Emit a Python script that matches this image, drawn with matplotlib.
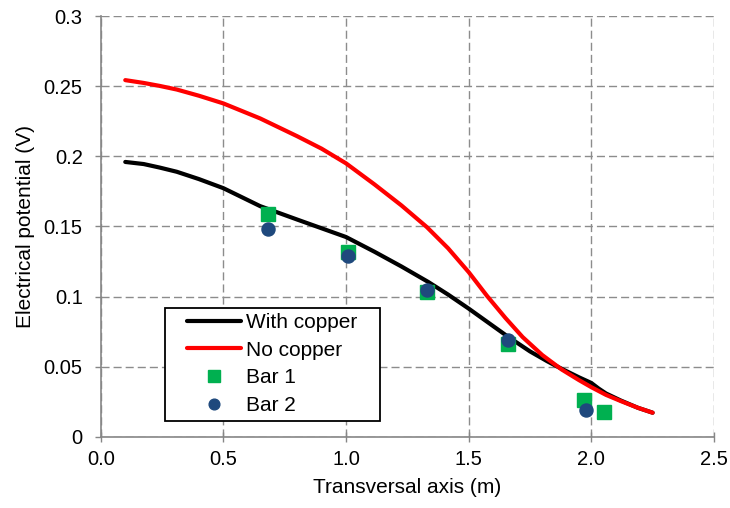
import matplotlib
matplotlib.use("Agg")
import matplotlib.pyplot as plt
from matplotlib.patches import Rectangle

plt.rcParams['font.family'] = ['Liberation Sans', 'DejaVu Sans']
plt.rcParams['lines.scale_dashes'] = False

with_x = [0.1, 0.175, 0.24, 0.31, 0.4, 0.5, 0.65, 0.8, 1.0, 1.116, 1.226, 1.335, 1.416, 1.5, 1.58, 1.66, 1.75, 1.82, 1.88, 1.95, 2.0, 2.03, 2.06, 2.12, 2.19, 2.25]
with_y = [0.196, 0.1945, 0.192, 0.189, 0.1838, 0.1773, 0.1645, 0.155, 0.1425, 0.132, 0.1215, 0.1105, 0.1015, 0.0915, 0.0815, 0.0715, 0.061, 0.054, 0.0485, 0.0425, 0.0385, 0.0345, 0.031, 0.026, 0.0208, 0.0173]

no_x = [0.1, 0.175, 0.24, 0.31, 0.4, 0.5, 0.65, 0.8, 0.9, 1.0, 1.116, 1.226, 1.33, 1.416, 1.5, 1.575, 1.65, 1.72, 1.8, 1.88, 1.95, 2.0, 2.06, 2.12, 2.19, 2.25]
no_y = [0.2543, 0.2523, 0.2502, 0.2476, 0.2432, 0.2377, 0.227, 0.2144, 0.2055, 0.195, 0.180, 0.165, 0.1495, 0.1345, 0.1175, 0.1005, 0.0848, 0.0712, 0.0584, 0.048, 0.0405, 0.0355, 0.030, 0.0256, 0.0208, 0.0173]

bar1_x = [0.68, 1.01, 1.33, 1.66, 1.97, 2.05]
bar1_y = [0.159, 0.132, 0.103, 0.066, 0.026, 0.018]

bar2_x = [0.68, 1.01, 1.33, 1.66, 1.98]
bar2_y = [0.148, 0.129, 0.105, 0.069, 0.019]

x_ticks = [0, 0.5, 1.0, 1.5, 2.0, 2.5]
x_ticklabels = ['0.0', '0.5', '1.0', '1.5', '2.0', '2.5']
y_ticks = [0, 0.05, 0.1, 0.15, 0.2, 0.25, 0.3]
y_ticklabels = ['0', '0.05', '0.1', '0.15', '0.2', '0.25', '0.3']

fig = plt.figure(figsize=(7.3, 5.08), dpi=100)
ax = fig.add_axes([0.138, 0.1398, 0.84, 0.8287])

ax.plot(with_x, with_y, color='black', lw=3, label='With copper', solid_capstyle='round', solid_joinstyle='round', zorder=3)
ax.plot(no_x, no_y, color='#ff0000', lw=3, label='No copper', solid_capstyle='round', solid_joinstyle='round', zorder=3)
ax.plot(bar1_x, bar1_y, ls='none', marker='s', ms=10, color='#00b050', label='Bar 1', zorder=4)
ax.plot(bar2_x, bar2_y, ls='none', marker='o', ms=9.4, color='#1f497d', label='Bar 2', zorder=5)

ax.set_xlim(0, 2.5)
ax.set_ylim(0, 0.3)
ax.set_xticks(x_ticks)
ax.set_xticklabels(x_ticklabels)
ax.set_yticks(y_ticks)
ax.set_yticklabels(y_ticklabels)

ax.grid(True, color='#8c8c8c', ls=(0, (5.8, 2.9)), lw=1.0)
ax.set_axisbelow(True)
for s in ['top', 'right']:
    ax.spines[s].set_visible(False)
for s in ['left', 'bottom']:
    ax.spines[s].set_color('#868686')
    ax.spines[s].set_linewidth(1.2)
ax.tick_params(axis='both', colors='#868686', labelcolor='black', labelsize=14.5, width=1)
ax.tick_params(axis='x', direction='inout', length=7, pad=6)
ax.tick_params(axis='y', direction='out', length=4, pad=9)

ax.set_xlabel('Transversal axis (m)', fontsize=15, labelpad=6)
ax.set_ylabel('Electrical potential (V)', fontsize=15, labelpad=6)

# legend frame
ax.add_patch(Rectangle((0.1044, 0.038), 0.3506, 0.268, transform=ax.transAxes,
                       facecolor='white', edgecolor='black', lw=1.3, zorder=6))

leg = ax.legend(loc='center left', bbox_to_anchor=(0.137, 0.1734), fontsize=15,
                frameon=False, borderpad=0.1, labelspacing=0.42, handlelength=2.6,
                handletextpad=0.25, borderaxespad=0, markerscale=0.82)
leg.set_zorder(7)

fig.savefig('out.png', dpi=100)
